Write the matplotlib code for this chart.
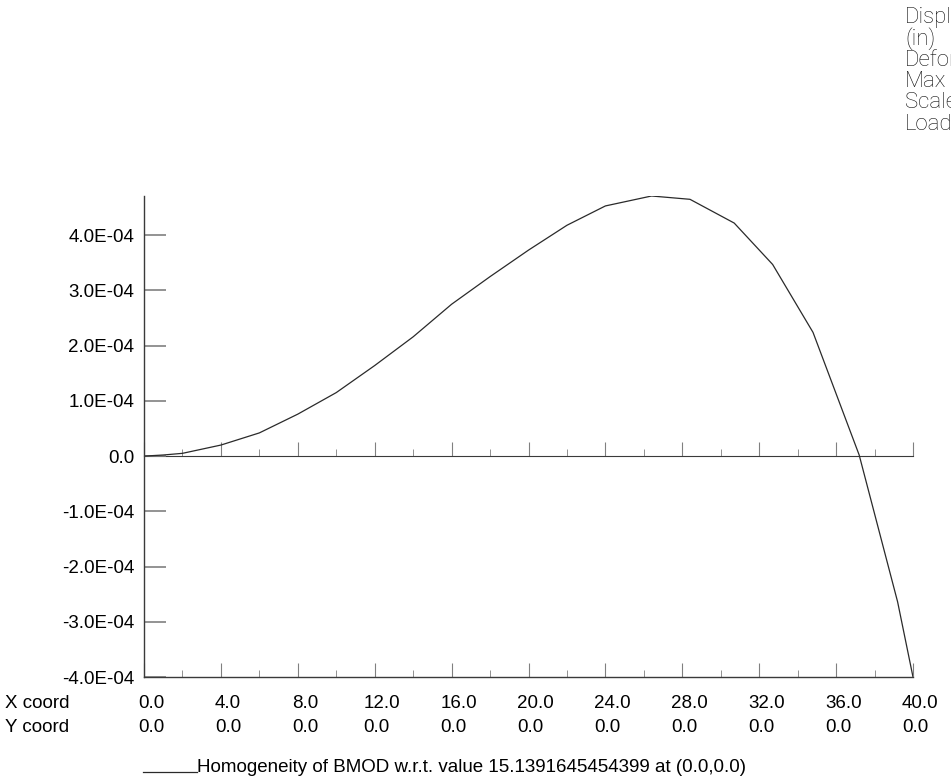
"""
Homogeneity of BMOD: displacement along the X coordinate line.
"""

import matplotlib
matplotlib.use("Agg")
import matplotlib.pyplot as plt
import matplotlib.transforms as mtransforms
from matplotlib.ticker import FuncFormatter, MultipleLocator

plt.rcParams.update({"font.family": ["Liberation Sans", "DejaVu Sans"], "font.size": 13.5})

# curve vertices (x in inches, y in 1e-4 in)
X_VALUES = [0.0, 1.0, 2.0, 4.0, 6.0, 8.0, 10.0, 12.0, 14.0, 16.0, 18.0, 20.0,
            22.0, 24.0, 26.4, 28.4, 30.7, 32.7, 34.8, 37.2, 39.2, 40.0]
Y_VALUES = [0.0, 0.02, 0.05, 0.2, 0.42, 0.76, 1.15, 1.64, 2.16, 2.75, 3.25, 3.73,
            4.18, 4.53, 4.71, 4.65, 4.22, 3.47, 2.24, 0.02, -2.64, -4.0]

# coordinate table under the x axis
X_COORD = [0.0, 4.0, 8.0, 12.0, 16.0, 20.0, 24.0, 28.0, 32.0, 36.0, 40.0]
Y_COORD = [0.0, 0.0, 0.0, 0.0, 0.0, 0.0, 0.0, 0.0, 0.0, 0.0, 0.0]

Y_TICKS = [-4.0, -3.0, -2.0, -1.0, 0.0, 1.0, 2.0, 3.0, 4.0]

HEADER_LINES = ["Displ", "(in)", "Defor", "Max", "Scale", "Load"]
LEGEND_TEXT = "Homogeneity of BMOD w.r.t. value 15.1391645454399 at (0.0,0.0)"

AXIS_COLOR = "#3a3a3a"
TICK_COLOR = "#808080"

W, H = 951, 779
fig = plt.figure(figsize=(W / 100, H / 100), dpi=100)
ax = fig.add_axes([144 / W, 1 - 677 / H, (913 - 144) / W, (677 - 196) / H])

y = [v * 1e-4 for v in Y_VALUES]
ax.plot(X_VALUES, y, color="#2a2a2a", linewidth=0.9)

ax.set_xlim(0, 40)
ax.set_ylim(min(y), max(y))

for s in ("top", "right"):
    ax.spines[s].set_visible(False)
for s in ("left", "bottom"):
    ax.spines[s].set_color(AXIS_COLOR)
    ax.spines[s].set_linewidth(1.0)

ax.xaxis.set_major_locator(MultipleLocator(4))
ax.xaxis.set_minor_locator(MultipleLocator(2))
ax.tick_params(axis="x", which="major", direction="in", length=10, color=TICK_COLOR,
               labelbottom=False)
ax.tick_params(axis="x", which="minor", direction="in", length=5, color=TICK_COLOR)

ax.set_yticks([t * 1e-4 for t in Y_TICKS])
ax.yaxis.set_major_formatter(FuncFormatter(
    lambda v, _: "0.0" if abs(v) < 1e-12 else f"{v:.1E}"))
ax.tick_params(axis="y", direction="in", length=16, width=1.2, color=TICK_COLOR, pad=7)

# zero line with its own ticks
y0 = -min(y) / (max(y) - min(y))
zero_ax = ax.secondary_xaxis(y0)
zero_ax.spines["bottom"].set_color(AXIS_COLOR)
zero_ax.xaxis.set_major_locator(MultipleLocator(4))
zero_ax.xaxis.set_minor_locator(MultipleLocator(2))
zero_ax.tick_params(axis="x", which="major", direction="in", length=10, color=TICK_COLOR,
                    labelbottom=False, labeltop=False)
zero_ax.tick_params(axis="x", which="minor", direction="in", length=5, color=TICK_COLOR)

# coordinate table
fig.text(5 / W, 1 - 704 / H, "X coord", ha="left", va="center")
fig.text(5 / W, 1 - 727 / H, "Y coord", ha="left", va="center")
blend = mtransforms.blended_transform_factory(ax.transData, fig.transFigure)
for xc, yc in zip(X_COORD, Y_COORD):
    shift = -6 if xc < 10 else -11
    tr = blend + mtransforms.ScaledTranslation(shift / 100, 0, fig.dpi_scale_trans)
    ax.text(xc, 1 - 704 / H, f"{xc:.1f}", transform=tr, ha="left", va="center",
            clip_on=False)
    ax.text(xc, 1 - 727 / H, f"{yc:.1f}", transform=tr, ha="left", va="center",
            clip_on=False)

# legend line
fig.add_artist(plt.Line2D([143 / W, 197 / W], [1 - 772 / H, 1 - 772 / H],
                          color="#2a2a2a", linewidth=0.9))
fig.text(197 / W, 1 - 772 / H, LEGEND_TEXT, ha="left", va="baseline")

# header at top right, runs off the page like in the original
for i, line in enumerate(HEADER_LINES):
    fig.text(905 / W, 1 - (17 + 21.5 * i) / H, line, ha="left", va="center",
             fontsize=16, family=["Roboto", "DejaVu Sans"], fontweight="light",
             color="#111111")

fig.savefig("out.png", dpi=100)
